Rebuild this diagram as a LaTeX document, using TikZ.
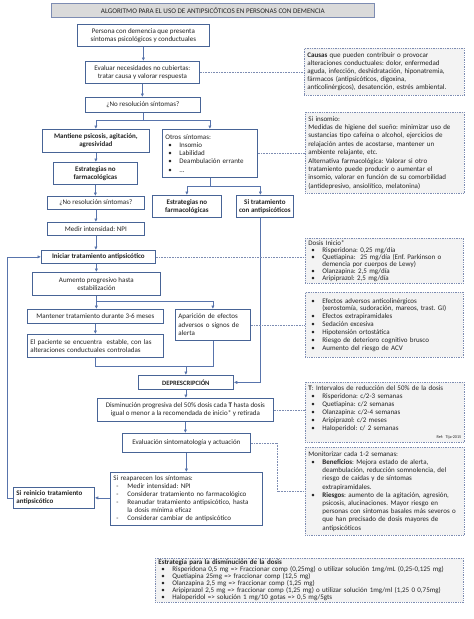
\documentclass[tikz,border=0pt]{standalone}
\usepackage{fontspec}
\setmainfont{Carlito}
\usetikzlibrary{arrows.meta,calc}
\definecolor{boxc}{RGB}{72,100,150}
\definecolor{arrc}{RGB}{88,116,172}
\definecolor{dotc}{RGB}{125,140,178}
\definecolor{grayf}{RGB}{243,243,243}
\definecolor{titlef}{RGB}{218,218,218}
\definecolor{txt}{RGB}{35,35,35}
\newcommand\fs{\fontsize{7}{8.3}\selectfont}
\newcommand\fz[1]{\fontsize{7}{#1}\selectfont}
\newcommand\bl{\makebox[14pt][l]{\hspace{3pt}•}}
\newcommand\dsh{\makebox[14pt][l]{\hspace{3pt}-}}
\newcommand\cl{\hspace*{14pt}}
\frenchspacing
\begin{document}
\begin{tikzpicture}[x=1pt,y=-1pt,
 mbox/.style={draw=boxc, line width=0.75pt, fill=white, anchor=north west, inner xsep=2pt, inner ysep=0pt, font=\fs, align=center, text=txt},
 lbox/.style={mbox, align=left, inner xsep=3pt},
 nbox/.style={draw=dotc, densely dotted, line width=0.75pt, fill=grayf, anchor=north west, inner xsep=3pt, inner ysep=0pt, font=\fs, align=left, text=txt},
 arr/.style={draw=arrc, line width=0.6pt, -{Latex[length=3.5pt,width=3.2pt]}},
 ln/.style={draw=arrc, line width=0.6pt},
 dotl/.style={draw=dotc, densely dotted, line width=0.6pt}]
\useasboundingbox[fill=white] (0,0) rectangle (474,619);
% title
\node[draw=dotc, line width=0.75pt, fill=titlef, anchor=north west, minimum width=323pt, minimum height=14pt, inner sep=0pt, font=\fontsize{7.1}{8}\selectfont, text=txt] (t) at (51,3) {ALGORITMO PARA EL USO DE ANTIPSICÓTICOS EN PERSONAS CON DEMENCIA};
% left column
\node[mbox, minimum width=132pt, minimum height=22pt] (b1) at (77,24) {Persona con demencia que presenta\\ síntomas psicológicos y conductuales};
\node[mbox, minimum width=114pt, minimum height=22pt] (b2) at (85,61) {Evaluar necesidades no cubiertas:\\ tratar causa y valorar respuesta};
\node[mbox, minimum width=115pt, minimum height=15pt] (b3) at (85,97) {¿No resolución síntomas?};
\node[mbox, minimum width=107pt, minimum height=23pt, font=\fs\bfseries] (b4) at (42,129) {Mantiene psicosis, agitación,\\ agresividad};
\node[lbox, minimum width=95pt, minimum height=48pt, text width=89pt, font=\fz{8.2}] (b5) at (162,129) {Otros síntomas:\\ \bl Insomio\\ \bl Labilidad\\ \bl Deambulación errante\\ \bl ...};
\node[mbox, minimum width=84pt, minimum height=22pt, font=\fs\bfseries] (b6) at (53,162) {Estrategias no\\ farmacológicas};
\node[mbox, minimum width=97pt, minimum height=13pt] (b7) at (47,196) {¿No resolución síntomas?};
\node[mbox, minimum width=97pt, minimum height=13pt] (b8) at (47,222) {Medir intensidad: NPI};
\node[mbox, minimum width=69pt, minimum height=22pt, font=\fs\bfseries] (b9) at (152,195) {Estrategias no\\ farmacológicas};
\node[mbox, minimum width=57pt, minimum height=22pt, inner xsep=1pt, font=\fs\bfseries] (b10) at (236,195) {Si tratamiento\\ con antipsicóticos};
\node[mbox, minimum width=114pt, minimum height=13pt, font=\fs\bfseries] (b11) at (41,250) {Iniciar tratamiento antipsicótico};
\node[mbox, minimum width=128pt, minimum height=23pt] (b12) at (32,272) {Aumento progresivo hasta\\ estabilización};
\node[mbox, minimum width=136pt, minimum height=14pt] (b13) at (27,309) {Mantener tratamiento durante 3-6 meses};
\node[lbox, minimum width=75pt, minimum height=31pt, text width=69pt] (b14) at (175,309) {Aparición de efectos\\ adversos o signos de\\ alerta};
\node[lbox, minimum width=136pt, minimum height=23pt, text width=130pt] (b15) at (27,334) {El paciente se encuentra\ \ estable, con las\\ alteraciones conductuales controladas};
\node[mbox, minimum width=95pt, minimum height=14pt, font=\fontsize{6.6}{7.5}\selectfont\bfseries] (b16) at (138,375) {DEPRESCRIPCIÓN};
\node[mbox, minimum width=176pt, minimum height=23pt] (b17) at (97,398) {Disminución progresiva del 50\% dosis cada \textbf{T} hasta dosis\\ igual o menor a la recomendada de inicio* y retirada};
\node[mbox, minimum width=128pt, minimum height=19pt] (b18) at (122,433) {Evaluación sintomatología y actuación};
\node[lbox, minimum width=152pt, minimum height=53pt, text width=146pt, font=\fz{8.0}] (b19) at (110,472) {Si reaparecen los síntomas:\\ \dsh Medir intensidad: NPI\\ \dsh Considerar tratamiento no farmacológico\\ \dsh Reanudar tratamiento antipsicótico, hasta\\ \cl la dosis mínima eficaz\\ \dsh Considerar cambiar de antipsicótico};
\node[lbox, minimum width=81pt, minimum height=21pt, text width=75pt, font=\fs\bfseries] (b20) at (13,487) {Si reinicio tratamiento\\ antipsicótico};
% right column
\node[nbox, minimum width=160pt, minimum height=47pt, text width=154pt, font=\fz{8.0}] (r1) at (304,48) {\textbf{Causas} que pueden contribuir o provocar\\ alteraciones conductuales: dolor, enfermedad\\ aguda, infección, deshidratación, hiponatremia,\\ fármacos (antipsicóticos, digoxina,\\ anticolinérgicos), desatención, estrés ambiental.};
\node[nbox, minimum width=159pt, minimum height=81pt, text width=153pt, font=\fz{8.4}] (r2) at (305,112) {Si insomio:\\ Medidas de higiene del sueño: minimizar uso de\\ sustancias tipo cafeína o alcohol, ejercicios de\\ relajación antes de acostarse, mantener un\\ ambiente relajante, etc.\\ Alternativa farmacológica: Valorar si otro\\ tratamiento puede producir o aumentar el\\ insomio, valorar en función de su comorbilidad\\ (antidepresivo, ansiolítico, melatonina)};
\node[nbox, minimum width=158pt, minimum height=45pt, text width=152pt, font=\fz{7.1}] (r3) at (305,238) {Dosis Inicio*\\ \bl Risperidona: 0,25 mg/día\\ \bl Quetiapina:\ \ 25 mg/día (Enf. Parkinson o\\ \cl demencia por cuerpos de Lewy)\\ \bl Olanzapina: 2,5 mg/día\\ \bl Aripiprazol: 2,5 mg/día};
\node[nbox, minimum width=158pt, minimum height=65pt, text width=152pt, font=\fz{7.9}] (r4) at (305,292) {\bl Efectos adversos anticolinérgicos\\ \cl (xerostomía, sudoración, mareos, trast. GI)\\ \bl Efectos extrapiramidales\\ \bl Sedación excesiva\\ \bl Hipotensión ortostática\\ \bl Riesgo de deterioro cognitivo brusco\\ \bl Aumento del riesgo de ACV};
\node[nbox, minimum width=159pt, minimum height=60pt, text width=153pt, font=\fz{7.9}] (r5) at (305,382) {\textbf{T}: Intervalos de reducción del 50\% de la dosis\\ \bl Risperidona: c/2-3 semanas\\ \bl Quetiapina: c/2 semanas\\ \bl Olanzapina: c/2-4 semanas\\ \bl Aripiprazol: c/2 meses\\ \bl Haloperidol: c/ 2 semanas\\ \hspace*{\fill}{\fontsize{4.2}{5}\selectfont Ref: Tija-2015}};
\node[nbox, minimum width=159pt, minimum height=88pt, text width=153pt, font=\fz{8.2}] (r6) at (305,447) {Monitorizar cada 1-2 semanas:\\ \bl \textbf{Beneficios}: Mejora estado de alerta,\\ \cl deambulación, reducción somnolencia, del\\ \cl riesgo de caídas y de síntomas\\ \cl extrapiramidales.\\ \bl \textbf{Riesgos}: aumento de la agitación, agresión,\\ \cl psicosis, alucinaciones. Mayor riesgo en\\ \cl personas con síntomas basales más severos o\\ \cl que han precisado de dosis mayores de\\ \cl antipsicóticos};
\node[nbox, minimum width=308pt, minimum height=44pt, text width=302pt, font=\fz{7.0}] (r7) at (155,558) {\textbf{Estrategia para la disminución de la dosis}\\ \bl Risperidona 0,5 mg => Fraccionar comp (0,25mg) o utilizar solución 1mg/mL (0,25-0,125 mg)\\ \bl Quetiapina 25mg => fraccionar comp (12,5 mg)\\ \bl Olanzapina 2,5 mg => fraccionar comp (1,25 mg)\\ \bl Aripiprazol 2,5 mg => fraccionar comp (1,25 mg) o utilizar solución 1mg/ml (1,25 0 0,75mg)\\ \bl Haloperidol => solución 1 mg/10 gotas => 0,5 mg/5gts};
% connectors
\coordinate (y1) at (0,120);
\coordinate (y2) at (0,186);
\coordinate (y3) at (0,301);
\coordinate (y4) at (0,366);
\draw[arr] (b1.south) -- (b1.south |- b2.north);
\draw[arr] (b2.south) -- (b2.south |- b3.north);
\draw[ln] (b3.south) -- (b3.south |- y1);
\draw[arr] (b3.south |- y1) -| (b4.north);
\draw[arr] (b3.south |- y1) -| (b5.north);
\draw[arr] (b4.south) -- (b4.south |- b6.north);
\draw[arr] (b6.south) -- (b6.south |- b7.north);
\draw[arr] (b7.south) -- (b7.south |- b8.north);
\draw[arr] (b8.south) -- (b8.south |- b11.north);
\draw[ln] (b5.south) -- (b5.south |- y2);
\draw[arr] (b5.south |- y2) -| (b9.north);
\draw[arr] (b5.south |- y2) -| ([xshift=-4.5pt]b10.north);
\draw[arr] ([xshift=-4.5pt]b10.south) |- (b16.east);
\draw[arr] (b12.north |- b11.south) -- (b12.north);
\draw[ln] (b12.south) -- (b12.south |- y3);
\draw[arr] (b12.south |- y3) -- (b12.south |- b13.north);
\draw[arr] (b12.south |- y3) -| (b14.north);
\draw[arr] (b13.south) -- (b13.south |- b15.north);
\draw[ln] (b15.south) |- (b14.south |- y4) -- (b14.south);
\draw[arr] (b16.north |- y4) -- (b16.north);
\draw[arr] (b16.south) -- (b16.south |- b17.north);
\draw[arr] (b17.south) -- (b17.south |- b18.north);
\draw[arr] (b18.south) -- (b18.south |- b19.north);
\draw[arr] (b19.west |- b20.east) -- (b20.east);
\draw[arr] (b20.west) -- ++(-6,0) |- (b11.west);
% dotted links
\draw[dotl] (b2.east) -- (b2.east -| r1.west);
\draw[dotl] (b5.east) -- (b5.east -| r2.west);
\draw[dotl] (b11.east) -- (b11.east -| r3.west);
\draw[dotl] (b14.east) -- (b14.east -| r4.west);
\draw[dotl] (b17.east) -- (b17.east -| r5.west);
\draw[dotl] (b18.east) -- ++(27,0) |- (r6.west);
\end{tikzpicture}
\end{document}
